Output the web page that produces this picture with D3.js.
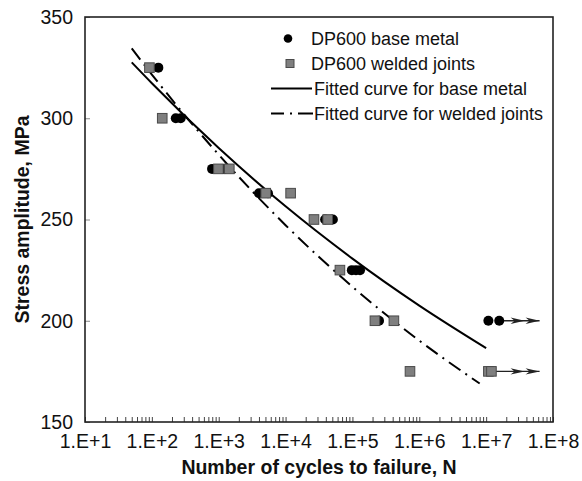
<!doctype html>
<html>
<head>
<meta charset="UTF-8">
<title>S-N curve DP600</title>
<script src="https://cdn.jsdelivr.net/npm/d3@7"></script>
<style>
  body { margin: 0; background: #fff; }
  svg { font-family: "Liberation Sans", Arial, sans-serif; }
  .tick text { font-size: 19.5px; fill: #111; }
  .legend text { font-size: 18px; fill: #111; }
  .title { font-size: 19.5px; font-weight: bold; fill: #111; }
</style>
</head>
<body>
<svg id="chart" width="582" height="481"></svg>
<script>
// base metal test points (cycles, stress MPa)
var baseN = [125, 228, 270, 795, 1200, 4000, 5460, 39000, 51000, 98000, 113000, 130000, 250000];
var baseS = [325, 300, 300, 275, 275, 263, 263, 250, 250, 225, 225, 225, 200];
var baseRunN = [10800000, 15700000];
var baseRunS = [200, 200];

// welded joints test points
var weldN = [92, 143, 990, 1440, 5050, 11900, 26600, 42700, 65000, 217000, 417000, 726000];
var weldS = [325, 300, 275, 275, 263, 263, 250, 250, 225, 200, 200, 175];
var weldRunN = [10800000, 12000000];
var weldRunS = [175, 175];

// fitted curves
var baseFitN = [50, 100, 1000, 10000, 100000, 1000000, 10000000];
var baseFitS = [327.6, 317.3, 285.3, 256.5, 230.7, 207.5, 186.5];
var weldFitN = [50, 100, 1000, 10000, 100000, 1000000, 8000000];
var weldFitS = [334.5, 321.6, 282.0, 247.2, 216.8, 190.2, 169.0];

var runoutEnd = 63000000;   // arrow tips for run-outs

var yTicks = [150, 200, 250, 300, 350];
var legendLabels = ["DP600 base metal", "DP600 welded joints",
    "Fitted curve for base metal", "Fitted curve for welded joints"];

var svg = d3.select("#chart");
var mLeft = 85, mRight = 553, mTop = 17, mBottom = 422;

var x = d3.scaleLog().domain([10, 1e8]).range([mLeft, mRight]);
var y = d3.scaleLinear().domain([150, 350]).range([mBottom, mTop]);

// minor + major ticks for the log axis
var xTickVals = [];
for (var e = 1; e < 8; e++) {
    for (var m = 1; m < 10; m++) xTickVals.push(m * Math.pow(10, e));
}
xTickVals.push(1e8);

var xAxis = d3.axisBottom(x)
    .tickValues(xTickVals)
    .tickSize(-5)
    .tickPadding(12)
    .tickFormat(function(d) {
        var p = Math.round(Math.log10(d));
        return Math.abs(d - Math.pow(10, p)) < 1e-6 * d ? "1.E+" + p : "";
    });

var yAxis = d3.axisLeft(y)
    .tickValues(yTicks)
    .tickSize(-5)
    .tickPadding(12);

var gx = svg.append("g").attr("transform", "translate(0," + mBottom + ")").call(xAxis);
var gy = svg.append("g").attr("transform", "translate(" + mLeft + ",0)").call(yAxis);
gx.select(".domain").remove();
gy.select(".domain").remove();
gx.selectAll(".tick line").attr("stroke", "#444");
gy.selectAll(".tick line").attr("stroke", "#888");
gx.selectAll(".tick text").attr("dy", "0.71em");

// frame
svg.append("rect")
    .attr("x", mLeft).attr("y", mTop)
    .attr("width", mRight - mLeft).attr("height", mBottom - mTop)
    .attr("fill", "none").attr("stroke", "#222").attr("stroke-width", 1.6);

// fitted curves
var line = d3.line()
    .x(function(d) { return x(d[0]); })
    .y(function(d) { return y(d[1]); })
    .curve(d3.curveMonotoneX);

svg.append("path")
    .datum(d3.zip(baseFitN, baseFitS))
    .attr("d", line)
    .attr("fill", "none").attr("stroke", "#000").attr("stroke-width", 2);

svg.append("path")
    .datum(d3.zip(weldFitN, weldFitS))
    .attr("d", line)
    .attr("fill", "none").attr("stroke", "#000").attr("stroke-width", 2)
    .attr("stroke-dasharray", "14,6,2,6");

// run-out arrows
function arrows(nList, sList) {
    var x0 = x(d3.max(nList)), x1 = x(runoutEnd), yy = y(sList[0]);
    svg.append("line")
        .attr("x1", x0).attr("x2", x1).attr("y1", yy).attr("y2", yy)
        .attr("stroke", "#222").attr("stroke-width", 1.4);
    [x1 - 15, x1].forEach(function(tip) {
        svg.append("path")
            .attr("d", "M" + tip + "," + yy + "L" + (tip - 14) + "," + (yy - 3.2) +
                "L" + (tip - 10) + "," + yy + "L" + (tip - 14) + "," + (yy + 3.2) + "Z")
            .attr("fill", "#222");
    });
}
arrows(baseRunN, baseRunS);
arrows(weldRunN, weldRunS);

// base metal circles
svg.append("g").selectAll("circle")
    .data(d3.zip(baseN.concat(baseRunN), baseS.concat(baseRunS)))
    .enter().append("circle")
    .attr("cx", function(d) { return x(d[0]); })
    .attr("cy", function(d) { return y(d[1]); })
    .attr("r", 5)
    .attr("fill", "#000");

// welded squares
svg.append("g").selectAll("rect")
    .data(d3.zip(weldN.concat(weldRunN), weldS.concat(weldRunS)))
    .enter().append("rect")
    .attr("x", function(d) { return x(d[0]) - 4.8; })
    .attr("y", function(d) { return y(d[1]) - 4.8; })
    .attr("width", 9.6).attr("height", 9.6)
    .attr("fill", "#7f7f7f").attr("stroke", "#4a4a4a").attr("stroke-width", 1);

// legend
var lg = svg.append("g").attr("class", "legend");
var rowY = [38.5, 63.5, 88.5, 113.5];
lg.append("circle").attr("cx", 288).attr("cy", rowY[0]).attr("r", 4.3).attr("fill", "#000");
lg.append("rect").attr("x", 286).attr("y", rowY[1] - 4).attr("width", 8).attr("height", 8)
    .attr("fill", "#7f7f7f").attr("stroke", "#4a4a4a");
lg.append("line").attr("x1", 271).attr("x2", 312).attr("y1", rowY[2]).attr("y2", rowY[2])
    .attr("stroke", "#000").attr("stroke-width", 2);
lg.append("line").attr("x1", 271).attr("x2", 313).attr("y1", rowY[3]).attr("y2", rowY[3])
    .attr("stroke", "#000").attr("stroke-width", 2).attr("stroke-dasharray", "13,6,2,6,16");
lg.selectAll("text").data(legendLabels).enter().append("text")
    .attr("x", function(d, i) { return i < 2 ? 311 : 314; })
    .attr("y", function(d, i) { return rowY[i]; })
    .attr("dy", "0.35em")
    .text(function(d) { return d; });

// axis titles
svg.append("text").attr("class", "title")
    .attr("x", (mLeft + mRight) / 2).attr("y", 474)
    .attr("text-anchor", "middle")
    .text("Number of cycles to failure, N");

svg.append("text").attr("class", "title")
    .attr("transform", "translate(29," + (mTop + mBottom) / 2 + ") rotate(-90)")
    .attr("text-anchor", "middle")
    .text("Stress amplitude, MPa");
</script>
</body>
</html>
